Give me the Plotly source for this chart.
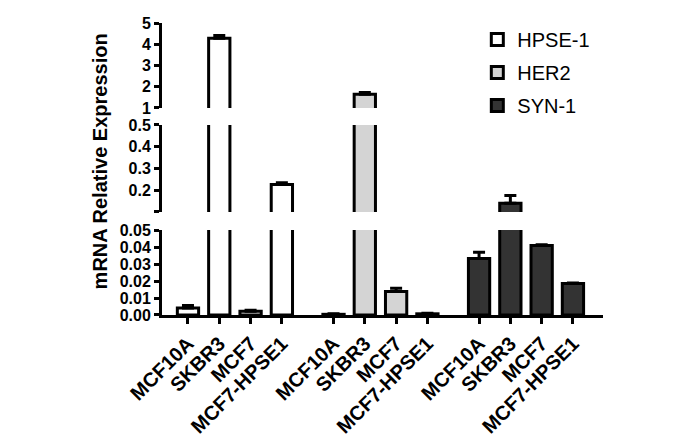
import plotly.graph_objects as go

cell_lines = ["MCF10A", "SKBR3", "MCF7", "MCF7-HPSE1"]
genes = ["HPSE-1", "HER2", "SYN-1"]

hpse1 = [0.0041, 4.28, 0.0022, 0.226]
hpse1_err = [0.0015, 0.13, 0.0006, 0.008]
her2 = [0.0004, 1.65, 0.0138, 0.0007]
her2_err = [0.0003, 0.08, 0.0020, 0.0004]
syn1 = [0.0332, 0.140, 0.0409, 0.0185]
syn1_err = [0.0037, 0.035, 0.0005, 0.0004]

values = [hpse1, her2, syn1]
errors = [hpse1_err, her2_err, syn1_err]
fills = ["#ffffff", "#d4d4d4", "#333333"]

group_offsets = [0.0, 4.65, 9.3]

# y-axis segments (broken axis)
seg_ranges = [[0, 0.05], [0.1, 0.5], [1, 5]]
seg_domains = [[0.0, 0.291], [0.353, 0.651], [0.709, 1.0]]
seg_ticks = [[0, 0.01, 0.02, 0.03, 0.04, 0.05], [0.1, 0.2, 0.3, 0.4, 0.5], [1, 2, 3, 4, 5]]
seg_ticktext = [["0.00", "0.01", "0.02", "0.03", "0.04", "0.05"],
                ["", "0.2", "0.3", "0.4", "0.5"],
                ["1", "2", "3", "4", "5"]]

FONT = "Liberation Sans, Arial, sans-serif"

fig = go.Figure()
yaxis_names = ["y", "y2", "y3"]
for gi, gene in enumerate(genes):
    xs = [group_offsets[gi] + i for i in range(len(cell_lines))]
    for si, yname in enumerate(yaxis_names):
        fig.add_trace(go.Bar(
            x=xs, y=values[gi], width=0.68,
            name=gene, legendgroup=gene, showlegend=(si == 0),
            xaxis="x", yaxis=yname,
            marker=dict(color=fills[gi], line=dict(color="black", width=3)),
            error_y=dict(type="data", array=errors[gi], arrayminus=[0] * 4,
                         symmetric=False, color="black", thickness=3, width=6),
        ))

tickvals = [group_offsets[g] + i for g in range(3) for i in range(4)]
ticktext = cell_lines * 3

layout = dict(
    width=685, height=442,
    margin=dict(l=162, r=82, t=23, b=127),
    paper_bgcolor="white", plot_bgcolor="white",
    barmode="overlay",
    showlegend=True,
    legend=dict(x=0.715, y=1.01, xanchor="left", yanchor="top",
                font=dict(family=FONT, size=20, color="black"),
                bgcolor="rgba(0,0,0,0)", tracegroupgap=4),
    xaxis=dict(range=[-0.83, 13.26], tickvals=tickvals, ticktext=ticktext,
               tickangle=-45, showline=True, linewidth=3, linecolor="black",
               ticks="outside", ticklen=6, tickwidth=2.5, tickcolor="black",
               showgrid=False, zeroline=False, anchor="y", automargin=False,
               tickfont=dict(family=FONT, size=20, color="black", weight="bold")),
)
for si, yname in enumerate(yaxis_names):
    key = "yaxis" if si == 0 else "yaxis%d" % (si + 1)
    layout[key] = dict(
        domain=seg_domains[si], range=seg_ranges[si],
        tickvals=seg_ticks[si], ticktext=seg_ticktext[si],
        showline=True, linewidth=3, linecolor="black",
        ticks="outside", ticklen=5, tickwidth=2.5, tickcolor="black",
        showgrid=False, zeroline=False, anchor="x", automargin=False,
        tickfont=dict(family=FONT, size=16, color="black", weight="bold"),
    )
fig.update_layout(**layout)

fig.add_annotation(
    text="mRNA Relative Expression", textangle=-90,
    xref="paper", yref="paper", x=-0.14, y=0.527,
    xanchor="center", yanchor="middle", showarrow=False,
    font=dict(family=FONT, size=20, color="black", weight="bold"),
)

fig.write_html("out.html", config={"displayModeBar": False},
               post_script="document.body.style.margin='0';")
